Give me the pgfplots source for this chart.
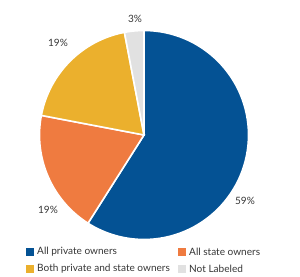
\documentclass[border=0pt]{standalone}
\usepackage{pgfplots}
\pgfplotsset{compat=1.18}
\usepackage{fontspec}
\setmainfont{Lato}
\definecolor{pblue}{RGB}{4,82,148}
\definecolor{porange}{RGB}{239,123,64}
\definecolor{pyellow}{RGB}{235,176,45}
\definecolor{pgray}{RGB}{225,225,225}
\definecolor{ptext}{RGB}{55,55,55}
% slice values (percent), clockwise from 12 o'clock
\def\vA{59}\def\vB{19}\def\vC{19}\def\vD{3}
\pgfmathsetmacro\aA{90}
\pgfmathsetmacro\aB{\aA-3.6*\vA}
\pgfmathsetmacro\aC{\aB-3.6*\vB}
\pgfmathsetmacro\aD{\aC-3.6*\vC}
\pgfmathsetmacro\aE{\aD-3.6*\vD}
\def\R{104.5bp}
\begin{document}
\begin{tikzpicture}
\begin{axis}[
  width=300bp, height=277bp, scale only axis,
  xmin=0, xmax=300, ymin=0, ymax=277,
  axis lines=none, clip=false,
  font=\fontsize{10.1}{12}\selectfont,
]
\path (axis cs:0,0) rectangle (axis cs:300,277);
\fill[pblue,draw=white,line width=1.6pt] (axis cs:144,142) -- ++(\aA:\R) arc[start angle=\aA, end angle=\aB, radius=\R] -- cycle;
\fill[porange,draw=white,line width=1.6pt] (axis cs:144,142) -- ++(\aB:\R) arc[start angle=\aB, end angle=\aC, radius=\R] -- cycle;
\fill[pyellow,draw=white,line width=1.6pt] (axis cs:144,142) -- ++(\aC:\R) arc[start angle=\aC, end angle=\aD, radius=\R] -- cycle;
\fill[pgray,draw=white,line width=1.6pt] (axis cs:144,142) -- ++(\aD:\R) arc[start angle=\aD, end angle=\aE, radius=\R] -- cycle;
% percentage labels
\node[ptext] at (axis cs:245,76) {\vA\%};
\node[ptext] at (axis cs:48,67) {\vB\%};
\node[ptext] at (axis cs:58,234) {\vC\%};
\node[ptext] at (axis cs:135,258) {\vD\%};
% legend
\fill[pblue] (axis cs:26,21) rectangle (axis cs:34,29);
\node[ptext,anchor=west,inner sep=0pt] at (axis cs:37,25) {All private owners};
\fill[porange] (axis cs:178,21) rectangle (axis cs:186,29);
\node[ptext,anchor=west,inner sep=0pt] at (axis cs:189,25) {All state owners};
\fill[pyellow] (axis cs:26,4) rectangle (axis cs:34,12);
\node[ptext,anchor=west,inner sep=0pt] at (axis cs:37,8) {Both private and state owners};
\fill[pgray] (axis cs:178,4) rectangle (axis cs:186,12);
\node[ptext,anchor=west,inner sep=0pt] at (axis cs:189,8) {Not Labeled};
\end{axis}
\end{tikzpicture}
\end{document}
